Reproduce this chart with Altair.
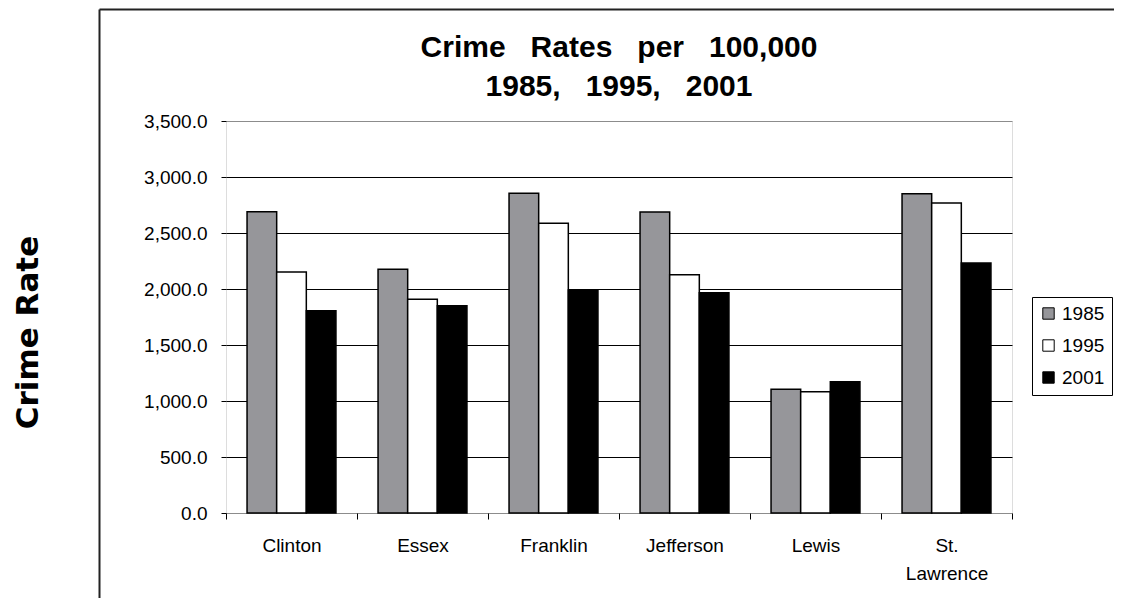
import altair as alt
import pandas as pd

counties = ["Clinton", "Essex", "Franklin", "Jefferson", "Lewis", "St. Lawrence"]
years = ["1985", "1995", "2001"]
rate_1985 = [2690, 2176, 2854, 2688, 1104, 2851]
rate_1995 = [2152, 1908, 2586, 2128, 1083, 2768]
rate_2001 = [1806, 1851, 1991, 1967, 1172, 2232]
y_ticks = [0, 500, 1000, 1500, 2000, 2500, 3000, 3500]

rows = []
for i, c in enumerate(counties):
    for y, vals in zip(years, [rate_1985, rate_1995, rate_2001]):
        rows.append({"county": c, "year": y, "rate": vals[i]})
df = pd.DataFrame(rows)

FONT = "Liberation Sans"
NB = "\u00a0"
BORDER = "#8c8c8c"

bars = alt.Chart(df).mark_bar(stroke="black", strokeWidth=1.5).encode(
    x=alt.X(
        "county:N",
        sort=counties,
        scale=alt.Scale(paddingInner=0, paddingOuter=0),
        axis=alt.Axis(
            title=None,
            labelAngle=0,
            tickBand="extent",
            tickSize=6,
            tickColor="black",
            domain=False,
            labelFont=FONT,
            labelFontSize=19,
            labelColor="black",
            labelPadding=17,
            labelBaseline="top",
            labelExpr="split(datum.label, ' ')",
            labelLineHeight=28,
        ),
    ),
    xOffset=alt.XOffset(
        "year:N", sort=years, scale=alt.Scale(paddingInner=0, paddingOuter=0.71)
    ),
    y=alt.Y(
        "rate:Q",
        scale=alt.Scale(domain=[0, 3500], nice=False),
        axis=alt.Axis(
            values=y_ticks,
            format=",.1f",
            grid=True,
            gridColor=alt.condition(
                "datum.value === 0 || datum.value === 3500",
                alt.value(BORDER),
                alt.value("black"),
            ),
            gridWidth=1,
            tickColor="black",
            tickSize=5,
            domain=False,
            labelFont=FONT,
            labelFontSize=19,
            labelColor="black",
            labelPadding=14,
            title="Crime Rate",
            titleFont="DejaVu Sans",
            titleFontSize=31,
            titleFontWeight="bold",
            titleColor="black",
            titleAngle=270,
            titleX=-198,
            titleY=211,
            titleAlign="center",
            titleBaseline="middle",
        ),
    ),
    color=alt.Color(
        "year:N",
        sort=years,
        scale=alt.Scale(domain=years, range=["#96969a", "#ffffff", "#000000"]),
        legend=alt.Legend(
            title=None,
            orient="none",
            legendX=806,
            legendY=176,
            symbolType="square",
            symbolSize=130,
            symbolStrokeColor="black",
            symbolStrokeWidth=1,
            labelFont=FONT,
            labelFontSize=19,
            labelColor="black",
            labelOffset=4,
            strokeColor="black",
            padding=7,
            rowPadding=12,
        ),
    ),
)

frame_df = pd.DataFrame({"k": [0]})
frame_left = alt.Chart(frame_df).mark_rule(color="#222222", strokeWidth=2).encode(
    x=alt.value(-126.5), y=alt.value(-111.5), y2=alt.value(490)
)
frame_top = alt.Chart(frame_df).mark_rule(color="#222222", strokeWidth=2).encode(
    x=alt.value(-126.5), x2=alt.value(900), y=alt.value(-111.5)
)

chart = (
    alt.layer(frame_left, frame_top, bars)
    .properties(
        width=786,
        height=392,
        autosize=alt.AutoSizeParams(type="none"),
        padding={"left": 218, "top": 113, "right": 102, "bottom": 85},
        title=alt.TitleParams(
            text=[
                f"Crime{NB}{NB}{NB}Rates{NB}{NB}{NB}per{NB}{NB}{NB}100,000",
                f"1985,{NB}{NB}{NB}1995,{NB}{NB}{NB}2001",
            ],
            font=FONT,
            fontSize=30,
            fontWeight="bold",
            color="black",
            anchor="middle",
            frame="group",
            lineHeight=39,
            offset=-93,
        ),
    )
    .configure_view(stroke=BORDER, strokeWidth=2)
    .configure(background="white")
)

chart.save("out.html", embed_options={"renderer": "svg", "actions": False})
